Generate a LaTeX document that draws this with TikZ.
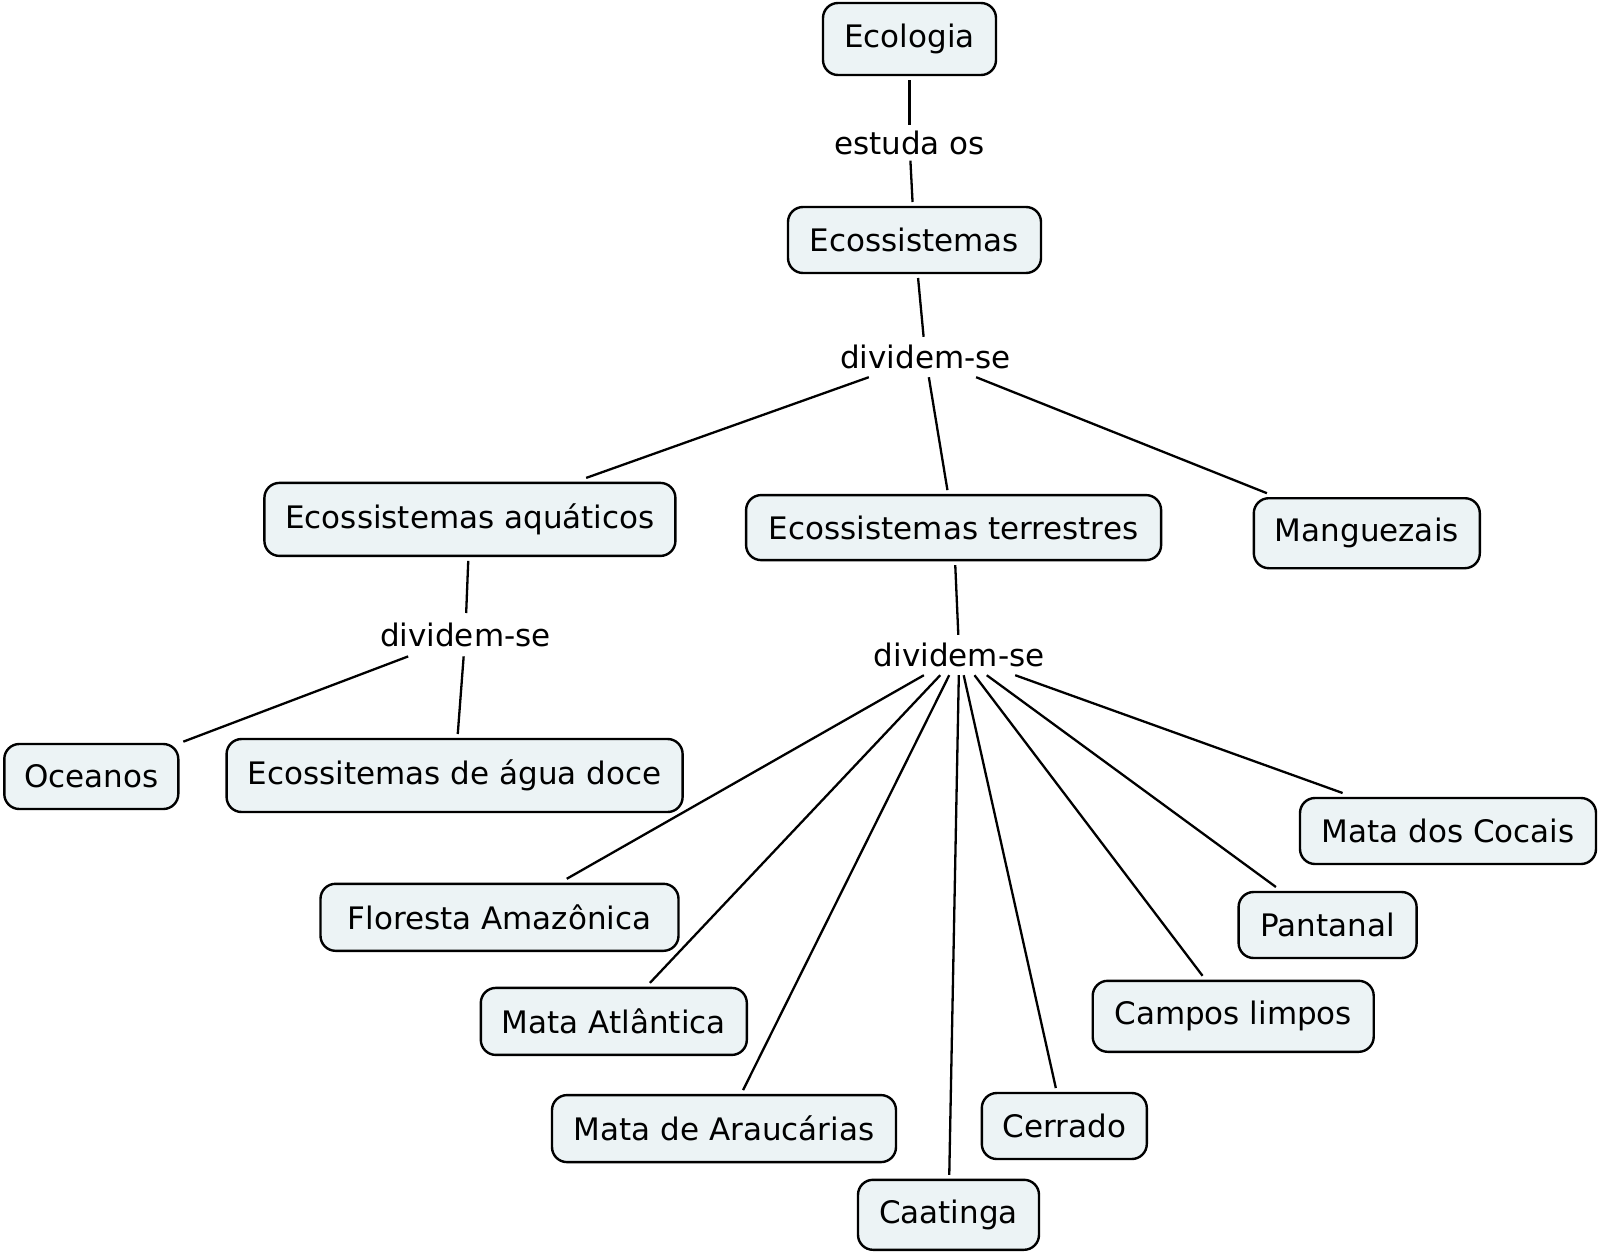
\documentclass[tikz,border=0pt]{standalone}
\usepackage{fontspec}
\setmainfont{DejaVu Sans}
\definecolor{cfill}{RGB}{236,243,245}
\begin{document}
\begin{tikzpicture}[x=1pt,y=-1pt,
  font=\fontsize{31pt}{37pt}\selectfont,
  concept/.style={draw=black, fill=cfill, line width=2.4pt, rounded corners=15pt,
    inner sep=0pt, outer sep=5pt, align=center},
  lab/.style={inner xsep=6pt, inner ysep=8.5pt, text height=23pt, text depth=0pt},
  conn/.style={line width=2.3pt}]
\useasboundingbox (0,0) rectangle (1600,1255);
% concepts
\node[concept, minimum width=173pt, minimum height=72pt] (eco)  at (909.5,39)   {Ecologia};
\node[concept, minimum width=253pt, minimum height=66pt] (ecos) at (914.5,240)  {Ecossistemas};
\node[concept, minimum width=411pt, minimum height=73pt] (aqua) at (469.9,519.4) {Ecossistemas aquáticos};
\node[concept, minimum width=415pt, minimum height=65pt] (terr) at (953.6,527.6) {Ecossistemas terrestres};
\node[concept, minimum width=226pt, minimum height=70pt] (mang) at (1366.8,533.2) {Manguezais};
\node[concept, minimum width=174pt, minimum height=65pt] (ocea) at (91.3,776.5) {Oceanos};
\node[concept, minimum width=456pt, minimum height=73pt] (agua) at (454.6,775.5) {Ecossitemas de água doce};
\node[concept, minimum width=358pt, minimum height=67pt] (flor) at (499.5,917.3) {Floresta Amazônica};
\node[concept, minimum width=266pt, minimum height=67pt] (atla) at (613.8,1021.4) {Mata Atlântica};
\node[concept, minimum width=344pt, minimum height=67pt] (arau) at (724,1128.6) {Mata de Araucárias};
\node[concept, minimum width=181pt, minimum height=70pt] (caat) at (948.5,1214.8) {Caatinga};
\node[concept, minimum width=165pt, minimum height=66pt] (cerr) at (1064.3,1126) {Cerrado};
\node[concept, minimum width=281pt, minimum height=71pt] (camp) at (1233.2,1016.3) {Campos limpos};
\node[concept, minimum width=178pt, minimum height=66pt] (pant) at (1327.6,925) {Pantanal};
\node[concept, minimum width=296pt, minimum height=66pt] (coca) at (1448,831) {Mata dos Cocais};
% linking phrases
\node[lab, inner ysep=6pt] (l1) at (909.5,143) {estuda os};
\node[lab] (l2) at (925.5,357) {dividem-se};
\node[lab, inner ysep=10pt] (l3) at (465.3,634.7) {dividem-se};
\node[lab] (l4) at (959.2,655) {dividem-se};
% connectors
\draw[conn] (eco) -- (l1);
\draw[conn] (l1) -- (ecos);
\draw[conn] (ecos) -- (l2);
\draw[conn] (l2) -- (aqua);
\draw[conn] (l2) -- (terr);
\draw[conn] (l2) -- (mang);
\draw[conn] (aqua) -- (l3);
\draw[conn] (l3) -- (ocea);
\draw[conn] (l3) -- (agua);
\draw[conn] (terr) -- (l4);
\draw[conn] (l4) -- (flor);
\draw[conn] (l4) -- (atla);
\draw[conn] (l4) -- (arau);
\draw[conn] (l4) -- (caat);
\draw[conn] (l4) -- (cerr);
\draw[conn] (l4) -- (camp);
\draw[conn] (l4) -- (pant);
\draw[conn] (l4) -- (coca);
\end{tikzpicture}
\end{document}
